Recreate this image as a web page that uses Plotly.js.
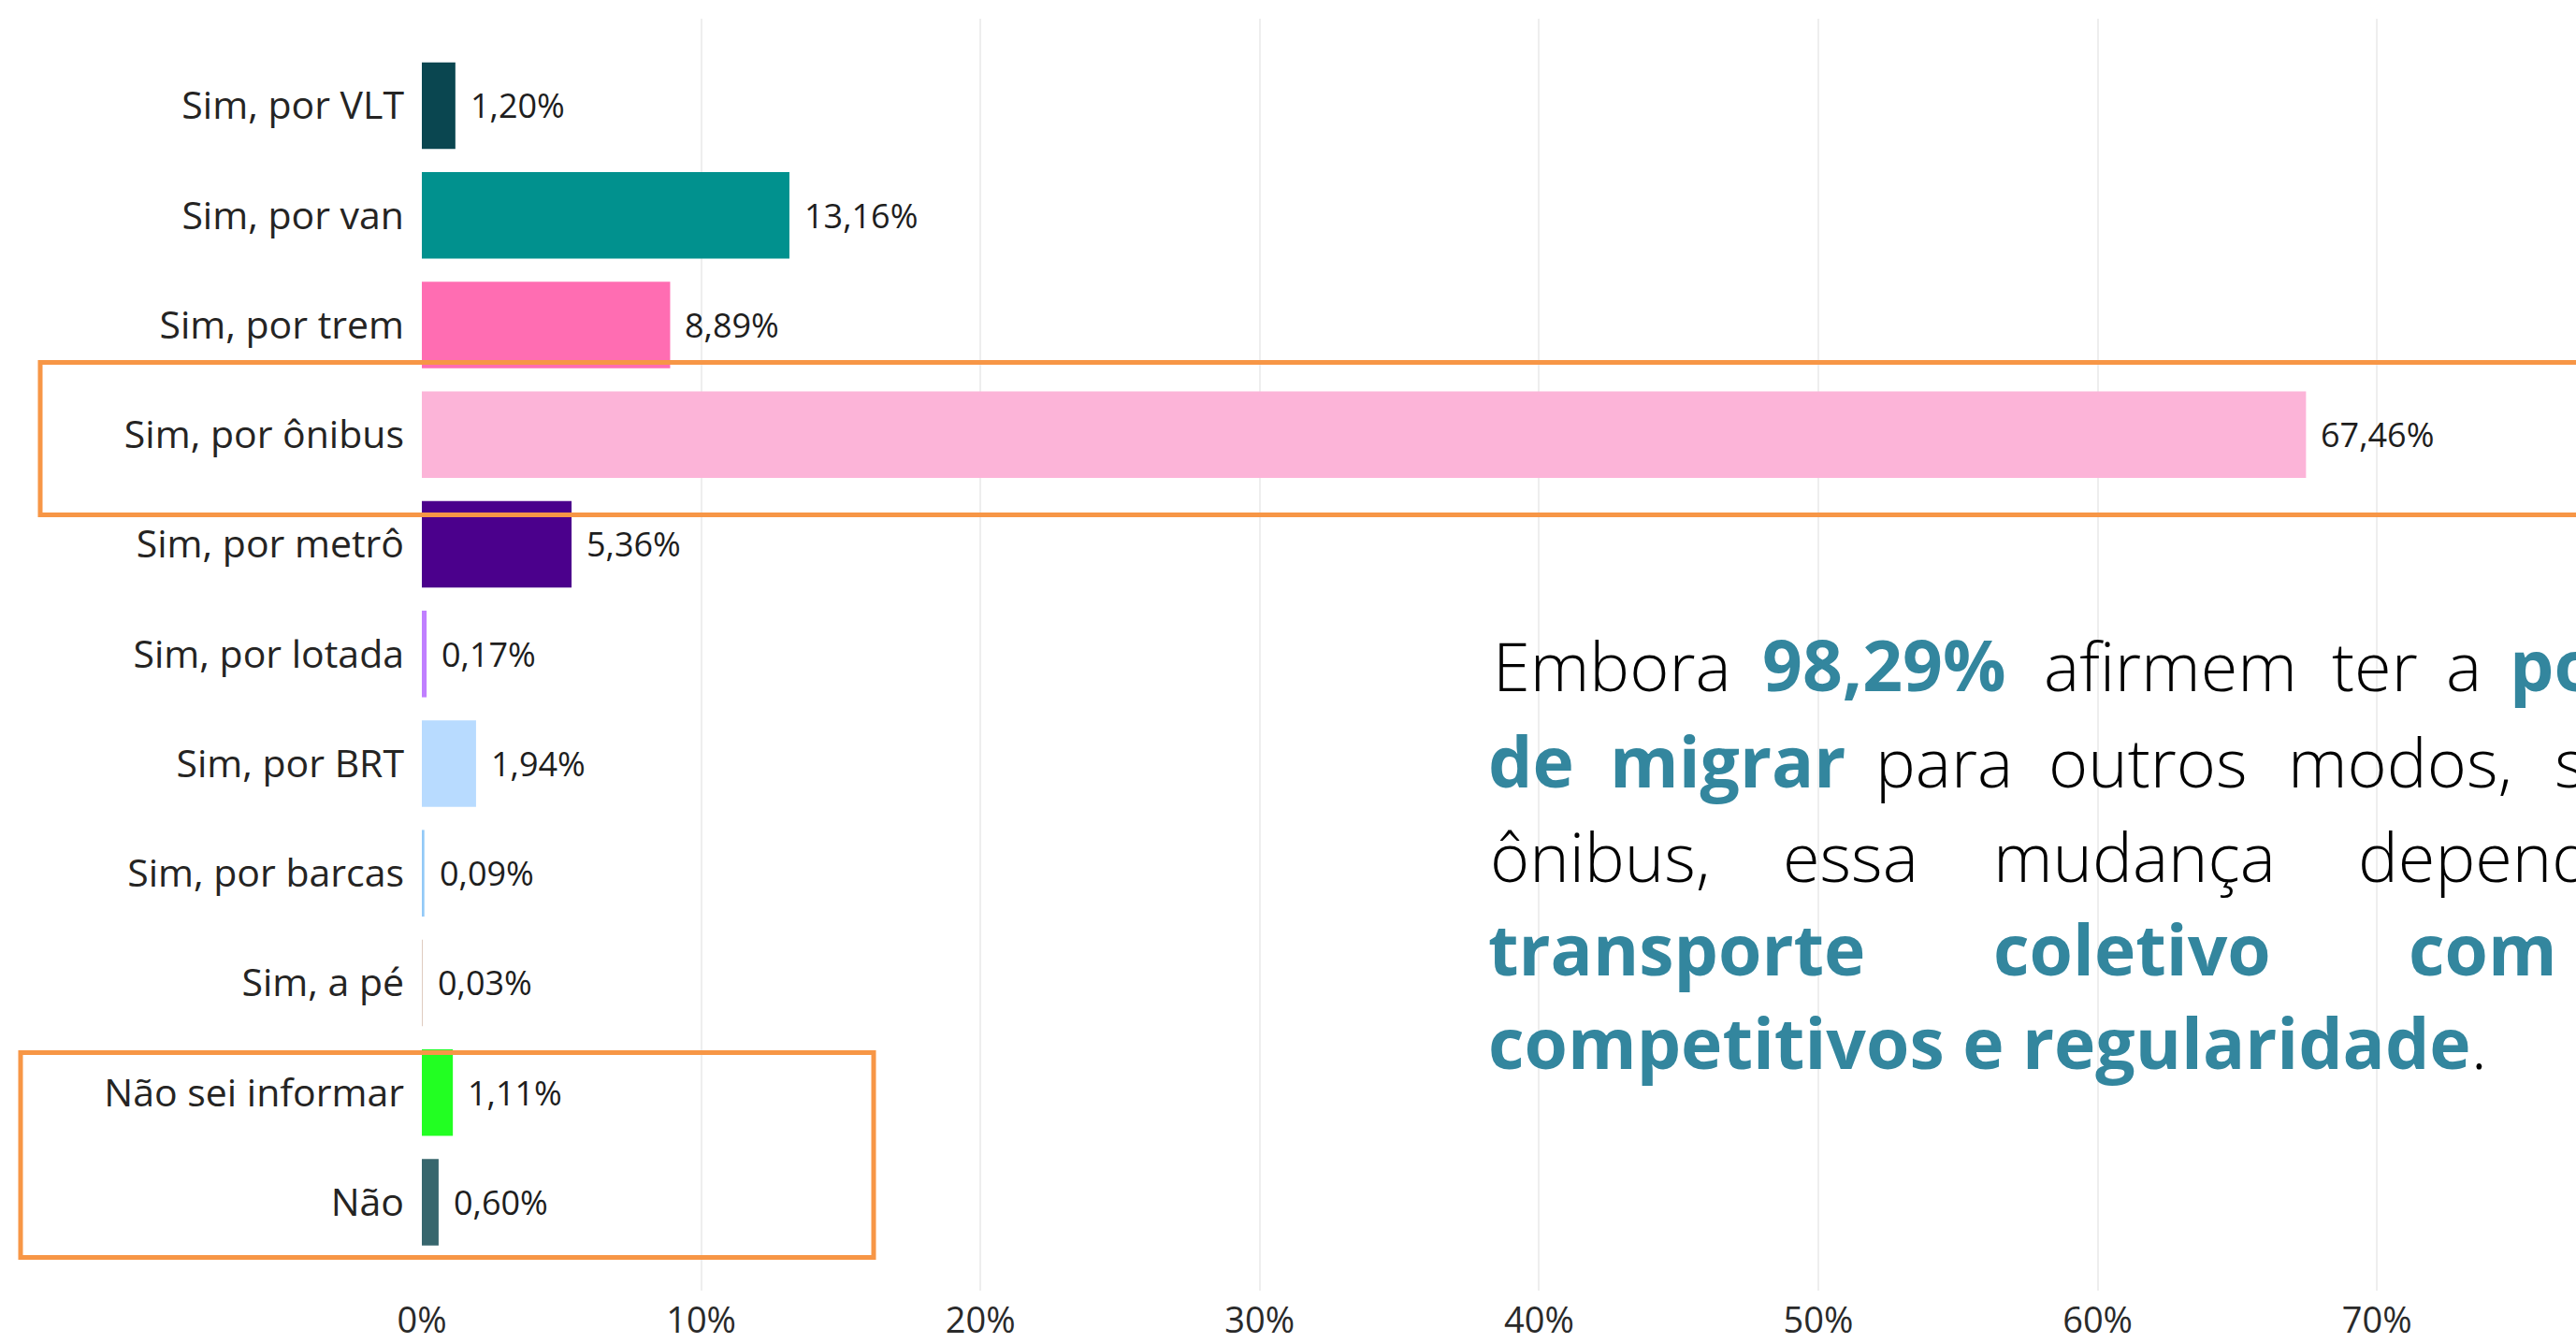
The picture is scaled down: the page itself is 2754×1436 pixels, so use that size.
<!DOCTYPE html>
<html>
<head>
<meta charset="utf-8">
<script src="https://cdn.plot.ly/plotly-3.0.1.min.js"></script>
<style>
  html, body { margin: 0; padding: 0; background: #ffffff; }
  #chart { width: 2754px; height: 1436px; }
</style>
</head>
<body>
<div id="chart"></div>
<script>
// ---------------- DATA ----------------
const categories = [
  "Sim, por VLT", "Sim, por van", "Sim, por trem", "Sim, por ônibus",
  "Sim, por metrô", "Sim, por lotada", "Sim, por BRT", "Sim, por barcas",
  "Sim, a pé", "Não sei informar", "Não"
];
const values = [1.20, 13.16, 8.89, 67.46, 5.36, 0.17, 1.94, 0.09, 0.03, 1.11, 0.60];
const barColors = [
  "#0A4650", "#01918E", "#FF6DB2", "#FCB4D8", "#4B008C", "#C07FFF",
  "#B8DBFF", "#93C9F7", "#DCC6B8", "#22FF22", "#37666D"
];
const xTickVals = [0, 10, 20, 30, 40, 50, 60, 70];
const xTickText = xTickVals.map(v => v + "%");
const valueLabels = values.map(v => v.toFixed(2).replace(".", ",") + "%");

// commentary text (words of the justified paragraph, visible part)
const noteLine1 = ["Embora", "98,29%", "afirmem", "ter", "a", "po"];
const noteLine2 = ["de", "migrar", "para", "outros", "modos,", "s"];
const noteLine3 = ["ônibus,", "essa", "mudança", "depend"];
const noteLine4 = ["transporte", "coletivo", "com"];
const noteLine5Bold = "competitivos e regularidade";
const noteLine5End = ".";

// ---------------- LAYOUT GEOMETRY ----------------
const W = 2754, H = 1436;
const M = { l: 451, r: 0, t: 20, b: 56 };
const plotW = W - M.l - M.r;
const plotH = H - M.t - M.b;
const pxPerPct = 29.86;
const px2paperX = px => (px - M.l) / plotW;
const px2paperY = py => (M.t + plotH - py) / plotH;

const TEAL = "#33869E";
const FONT = "Open Sans, Noto Sans, sans-serif";

const barTrace = {
  type: "bar",
  orientation: "h",
  y: categories,
  x: values,
  marker: { color: barColors, line: { width: 0 } },
  hoverinfo: "skip",
  showlegend: false
};

const annotations = [];

// value labels beside bars
categories.forEach((c, i) => {
  annotations.push({
    x: values[i], y: c, xref: "x", yref: "y",
    text: valueLabels[i], showarrow: false,
    xanchor: "left", yanchor: "middle", xshift: 14,
    font: { family: FONT, size: 36, color: "#1E1E1E" }
  });
});

// paragraph words
const FS = 72;      // light text size
const FSB = 75;     // bold text size
function addWords(words, bolds, lefts, baseline) {
  words.forEach((w, i) => {
    const fs = bolds[i] ? FSB : FS;
    annotations.push({
      xref: "paper", yref: "paper",
      x: px2paperX(lefts[i] - 4), y: px2paperY(baseline - 0.388 * fs),
      xanchor: "left", yanchor: "middle", showarrow: false,
      text: w,
      font: { family: FONT, size: fs, color: bolds[i] ? TEAL : "#000000", weight: bolds[i] ? 700 : 300 }
    });
  });
}
addWords(noteLine1, [false, true, false, false, false, true], [1598, 1886, 2187, 2495, 2617, 2685], 739);
addWords(noteLine2, [true, true, false, false, false, false], [1593, 1723, 2007, 2192, 2448, 2733], 842);
addWords(noteLine3, [false, false, false, false], [1595, 1908, 2133, 2523], 943);
addWords(noteLine4, [true, true, true], [1593, 2133, 2577], 1043);
annotations.push({
  xref: "paper", yref: "paper",
  x: px2paperX(1593 - 4), y: px2paperY(1143 - 0.388 * FSB),
  xanchor: "left", yanchor: "middle", showarrow: false,
  text: "<b><span style='color:" + TEAL + ";font-size:" + FSB + "px'>" + noteLine5Bold + "</span></b>" + noteLine5End,
  font: { family: FONT, size: FS, color: "#000000", weight: 300 }
});

const shapes = [
  { type: "rect", xref: "paper", yref: "paper", layer: "above",
    x0: px2paperX(43), x1: px2paperX(W + 20), y0: px2paperY(550.5), y1: px2paperY(387.5),
    line: { color: "#F79646", width: 5 }, fillcolor: "rgba(0,0,0,0)" },
  { type: "rect", xref: "paper", yref: "paper", layer: "above",
    x0: px2paperX(22), x1: px2paperX(934), y0: px2paperY(1344.5), y1: px2paperY(1125.5),
    line: { color: "#F79646", width: 5 }, fillcolor: "rgba(0,0,0,0)" }
];

const layout = {
  width: W, height: H,
  margin: M,
  paper_bgcolor: "#ffffff",
  plot_bgcolor: "#ffffff",
  bargap: 0.21,
  font: { family: FONT, color: "#252423" },
  xaxis: {
    range: [0, plotW / pxPerPct],
    tickmode: "array", tickvals: xTickVals, ticktext: xTickText,
    showgrid: true, gridcolor: "#EEEEEE", gridwidth: 2,
    zeroline: false, showline: false, ticks: "",
    ticklabelstandoff: 6,
    tickfont: { family: FONT, size: 38, color: "#2A2A2A" },
    automargin: false, fixedrange: true
  },
  yaxis: {
    type: "category",
    categoryorder: "array", categoryarray: categories,
    range: [10.806, -0.793], autorange: false,
    showgrid: false, zeroline: false, showline: false, ticks: "",
    ticklabelstandoff: 18,
    tickfont: { family: FONT, size: 41, color: "#252423" },
    automargin: false, fixedrange: true
  },
  annotations: annotations,
  shapes: shapes
};

Plotly.newPlot("chart", [barTrace], layout, { displayModeBar: false, staticPlot: true });
</script>
</body>
</html>
